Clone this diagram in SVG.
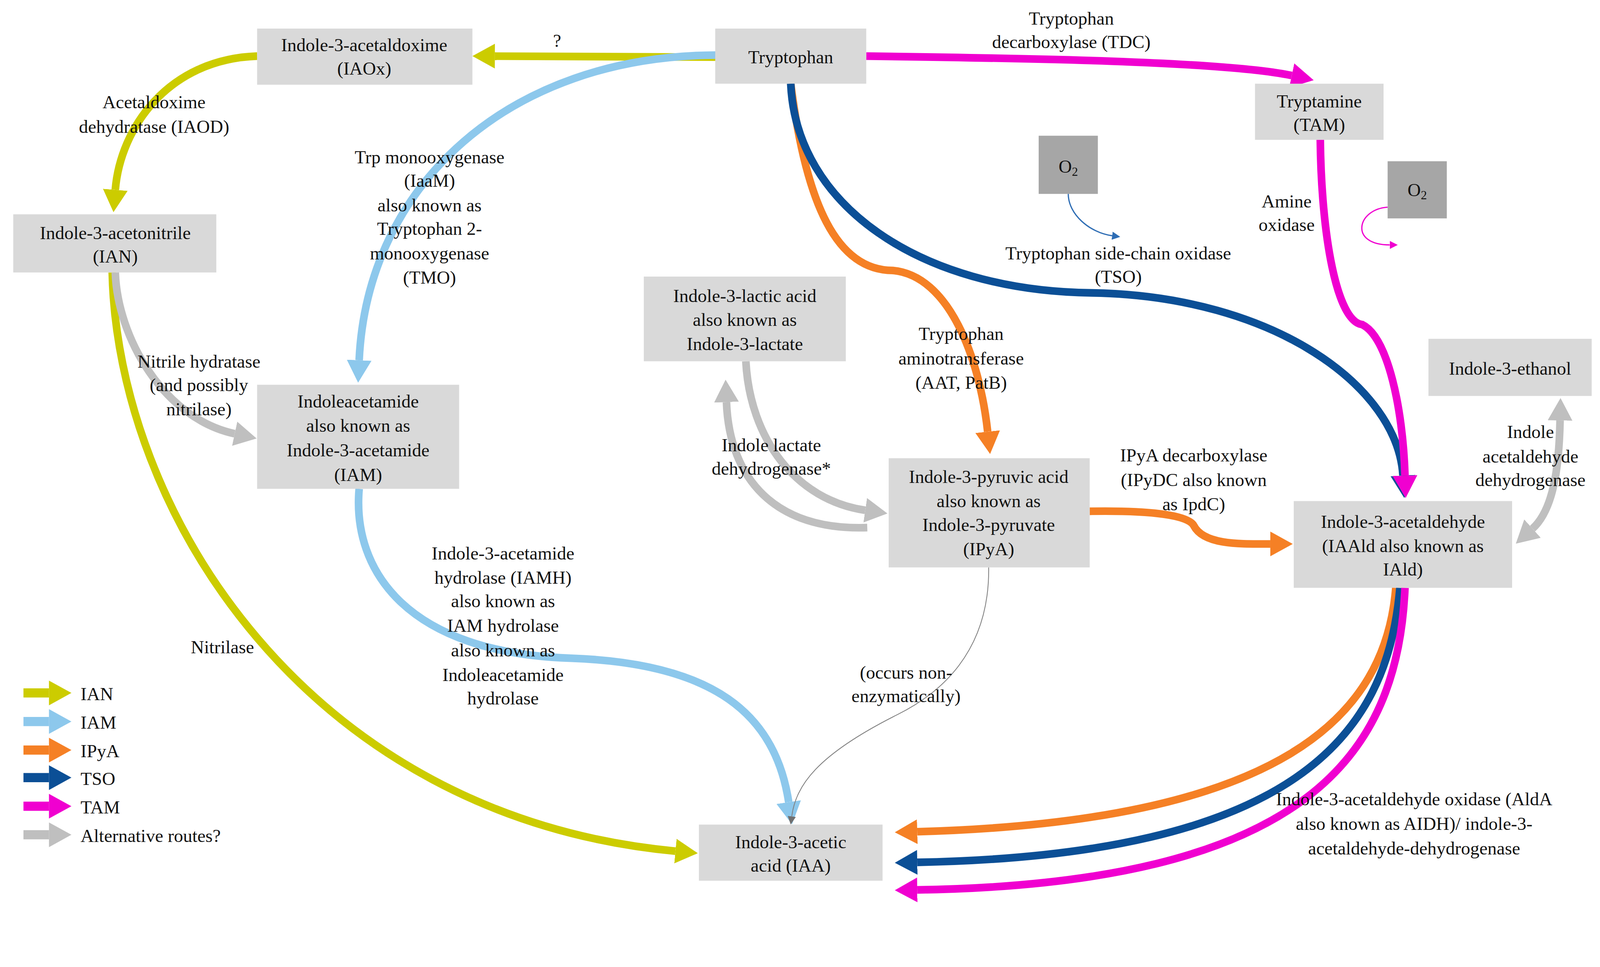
<svg xmlns="http://www.w3.org/2000/svg" width="4341" height="2475" viewBox="0 0 4341 2475" font-family="'Liberation Serif', 'DejaVu Serif', serif">
<style>
text{font-family:'Liberation Serif','DejaVu Serif',serif;font-size:18px;fill:#111;text-anchor:middle;dominant-baseline:central}
.box{fill:#d9d9d9}
.o2{fill:#a6a6a6}
.c{fill:none}
.lg{text-anchor:start}
</style>
<defs>
<marker id="hY" viewBox="0 0 20 22" refX="0" refY="11" markerWidth="22" markerHeight="25" markerUnits="userSpaceOnUse" orient="auto"><path d="M0,0L20,11L0,22z" fill="#cccc00"/></marker>
<marker id="hB" viewBox="0 0 20 22" refX="0" refY="11" markerWidth="22" markerHeight="25" markerUnits="userSpaceOnUse" orient="auto"><path d="M0,0L20,11L0,22z" fill="#8dc8ec"/></marker>
<marker id="hO" viewBox="0 0 20 22" refX="0" refY="11" markerWidth="22" markerHeight="25" markerUnits="userSpaceOnUse" orient="auto"><path d="M0,0L20,11L0,22z" fill="#f58025"/></marker>
<marker id="hD" viewBox="0 0 20 22" refX="0" refY="11" markerWidth="22" markerHeight="25" markerUnits="userSpaceOnUse" orient="auto"><path d="M0,0L20,11L0,22z" fill="#0b4f96"/></marker>
<marker id="hM" viewBox="0 0 20 22" refX="0" refY="11" markerWidth="22" markerHeight="25" markerUnits="userSpaceOnUse" orient="auto"><path d="M0,0L20,11L0,22z" fill="#f000d0"/></marker>
<marker id="hG" viewBox="0 0 20 22" refX="0" refY="11" markerWidth="22" markerHeight="25" markerUnits="userSpaceOnUse" orient="auto-start-reverse"><path d="M0,0L20,11L0,22z" fill="#bfbfbf"/></marker>
<marker id="sD" viewBox="0 0 10 10" refX="0" refY="5" markerWidth="8" markerHeight="8" markerUnits="userSpaceOnUse" orient="auto"><path d="M0,0L10,5L0,10z" fill="#2e6db4"/></marker>
<marker id="sM" viewBox="0 0 10 10" refX="0" refY="5" markerWidth="8" markerHeight="8" markerUnits="userSpaceOnUse" orient="auto"><path d="M0,0L10,5L0,10z" fill="#f000d0"/></marker>
<marker id="sG" viewBox="0 0 10 10" refX="0" refY="5" markerWidth="8" markerHeight="8" markerUnits="userSpaceOnUse" orient="auto"><path d="M0,0L10,5L0,10z" fill="#707070"/></marker>
</defs>
<rect width="4341" height="2475" fill="#fff"/>
<g transform="scale(2.612)">
<g id="connectors" class="c" stroke-width="7.5">
<path d="M701,56 L485,55" stroke="#cccc00" marker-end="url(#hY)"/>
<path d="M252,55 C165,58 118,125 113,186" stroke="#cccc00" marker-end="url(#hY)"/>
<path d="M110,267 C115,500 300,800 662,834" stroke="#cccc00" marker-end="url(#hY)"/>
<path d="M701,54 C500,55 360,180 352,353" stroke="#8dc8ec" marker-end="url(#hB)"/>
<path d="M352,479 C345,560 400,640 560,645 C700,650 760,700 773,786" stroke="#8dc8ec" marker-end="url(#hB)"/>
<path d="M113,267 C115,330 160,410 230,425" stroke="#bfbfbf" marker-end="url(#hG)"/>
<path d="M731,354 C735,430 780,490 848,500" stroke="#bfbfbf" marker-end="url(#hG)"/>
<path d="M850,517 C760,520 715,470 712,394" stroke="#bfbfbf" marker-end="url(#hG)"/>
<path d="M1502,518 C1522,500 1528,460 1529,412" stroke="#bfbfbf" marker-start="url(#hG)" marker-end="url(#hG)"/>
<path d="M775,82 C790,200 820,265 875,265 C930,270 960,350 968,423" stroke="#f58025" marker-end="url(#hO)"/>
<path d="M1068,501 C1130,500 1165,505 1170,515 C1180,535 1220,533 1245,533" stroke="#f58025" marker-end="url(#hO)"/>
<path d="M775,82 C780,200 900,285 1070,287 C1250,290 1370,380 1375,466" stroke="#0b4f96" marker-end="url(#hD)"/>
<path d="M849,55 C1000,57 1200,60 1266,74" stroke="#f000d0" marker-end="url(#hM)"/>
<path d="M1294,137 C1295,230 1310,315 1335,318 C1360,330 1375,400 1377,466" stroke="#f000d0" marker-end="url(#hM)"/>
<path d="M1368,576 C1358,700 1260,805 899,815" stroke="#f58025" marker-end="url(#hO)"/>
<path d="M1372,576 C1360,720 1270,838 899,845" stroke="#0b4f96" marker-end="url(#hD)"/>
<path d="M1377,576 C1370,740 1280,866 899,872" stroke="#f000d0" marker-end="url(#hM)"/>
<path d="M1047,190 C1047,210 1068,228 1090,231" stroke="#2e6db4" stroke-width="1.2" marker-end="url(#sD)"/>
<path d="M1360,203 C1330,205 1322,240 1362,240" stroke="#f000d0" stroke-width="1.2" marker-end="url(#sM)"/>
<path d="M969,556 C970,640 920,680 880,700 C800,740 780,770 776,800" stroke="#808080" stroke-width="0.8" marker-end="url(#sG)"/>
</g>
<g id="legend">
<g stroke-width="9" class="c">
<path d="M23,679H48" stroke="#cccc00" marker-end="url(#hY)"/>
<path d="M23,707H48" stroke="#8dc8ec" marker-end="url(#hB)"/>
<path d="M23,735H48" stroke="#f58025" marker-end="url(#hO)"/>
<path d="M23,762H48" stroke="#0b4f96" marker-end="url(#hD)"/>
<path d="M23,790H48" stroke="#f000d0" marker-end="url(#hM)"/>
<path d="M23,818H48" stroke="#bfbfbf" marker-end="url(#hG)"/>
</g>
<text class="lg" x="79" y="680">IAN</text>
<text class="lg" x="79" y="708">IAM</text>
<text class="lg" x="79" y="736">IPyA</text>
<text class="lg" x="79" y="763">TSO</text>
<text class="lg" x="79" y="791">TAM</text>
<text class="lg" x="79" y="819">Alternative routes?</text>
</g>
<g id="labels">
<text x="546" y="40">?</text>
<text x="151" y="100">Acetaldoxime</text><text x="151" y="124">dehydratase (IAOD)</text>
<text x="421" y="154">Trp monooxygenase</text><text x="421" y="177">(IaaM)</text><text x="421" y="201">also known as</text><text x="421" y="224">Tryptophan 2-</text><text x="421" y="248">monooxygenase</text><text x="421" y="272">(TMO)</text>
<text x="195" y="354">Nitrile  hydratase</text><text x="195" y="377">(and possibly</text><text x="195" y="401">nitrilase)</text>
<text x="1050" y="18">Tryptophan</text><text x="1050" y="41">decarboxylase (TDC)</text>
<text x="1096" y="248">Tryptophan side-chain  oxidase</text><text x="1096" y="271">(TSO)</text>
<text x="1261" y="197">Amine</text><text x="1261" y="220">oxidase</text>
<text x="942" y="327">Tryptophan</text><text x="942" y="351">aminotransferase</text><text x="942" y="375">(AAT, PatB)</text>
<text x="756" y="436">Indole lactate</text><text x="756" y="459">dehydrogenase*</text>
<text x="1170" y="446">IPyA decarboxylase</text><text x="1170" y="470">(IPyDC also known</text><text x="1170" y="494">as IpdC)</text>
<text x="1500" y="423">Indole</text><text x="1500" y="447">acetaldehyde</text><text x="1500" y="470">dehydrogenase</text>
<text x="493" y="542">Indole-3-acetamide</text><text x="493" y="566">hydrolase (IAMH)</text><text x="493" y="589">also known as</text><text x="493" y="613">IAM hydrolase</text><text x="493" y="637">also known as</text><text x="493" y="661">Indoleacetamide</text><text x="493" y="684">hydrolase</text>
<text x="218" y="634">Nitrilase</text>
<text x="888" y="659">(occurs non-</text><text x="888" y="682">enzymatically)</text>
<text x="1386" y="783">Indole-3-acetaldehyde oxidase (AldA</text><text x="1386" y="807">also known as AIDH)/ indole-3-</text><text x="1386" y="831">acetaldehyde-dehydrogenase</text>
</g>
<g id="n-iaox"><rect class="box" x="252" y="28" width="211" height="55"/><text x="357" y="44">Indole-3-acetaldoxime</text><text x="357" y="67">(IAOx)</text></g>
<g id="n-trp"><rect class="box" x="701" y="28" width="148" height="54"/><text x="775" y="56">Tryptophan</text></g>
<g id="n-tam"><rect class="box" x="1230" y="82" width="126" height="55"/><text x="1293" y="99">Tryptamine</text><text x="1293" y="122">(TAM)</text></g>
<g id="n-o2a"><rect class="o2" x="1018" y="133" width="58" height="57"/><text x="1047" y="163">O<tspan font-size="12" dy="5">2</tspan></text></g>
<g id="n-o2b"><rect class="o2" x="1360" y="158" width="58" height="56"/><text x="1389" y="186">O<tspan font-size="12" dy="5">2</tspan></text></g>
<g id="n-ian"><rect class="box" x="13" y="210" width="199" height="57"/><text x="113" y="228">Indole-3-acetonitrile</text><text x="113" y="251">(IAN)</text></g>
<g id="n-ila"><rect class="box" x="631" y="271" width="198" height="83"/><text x="730" y="290">Indole-3-lactic  acid</text><text x="730" y="313">also known as</text><text x="730" y="337">Indole-3-lactate</text></g>
<g id="n-iam"><rect class="box" x="252" y="377" width="198" height="102"/><text x="351" y="393">Indoleacetamide</text><text x="351" y="417">also known as</text><text x="351" y="441">Indole-3-acetamide</text><text x="351" y="465">(IAM)</text></g>
<g id="n-tol"><rect class="box" x="1400" y="332" width="160" height="56"/><text x="1480" y="361">Indole-3-ethanol</text></g>
<g id="n-ipya"><rect class="box" x="871" y="449" width="197" height="107"/><text x="969" y="467">Indole-3-pyruvic acid</text><text x="969" y="491">also known as</text><text x="969" y="514">Indole-3-pyruvate</text><text x="969" y="538">(IPyA)</text></g>
<g id="n-iaald"><rect class="box" x="1268" y="491" width="214" height="85"/><text x="1375" y="511">Indole-3-acetaldehyde</text><text x="1375" y="535">(IAAld also known as</text><text x="1375" y="558">IAld)</text></g>
<g id="n-iaa"><rect class="box" x="685" y="808" width="180" height="55"/><text x="775" y="825">Indole-3-acetic</text><text x="775" y="848">acid (IAA)</text></g>
</g>
</svg>
